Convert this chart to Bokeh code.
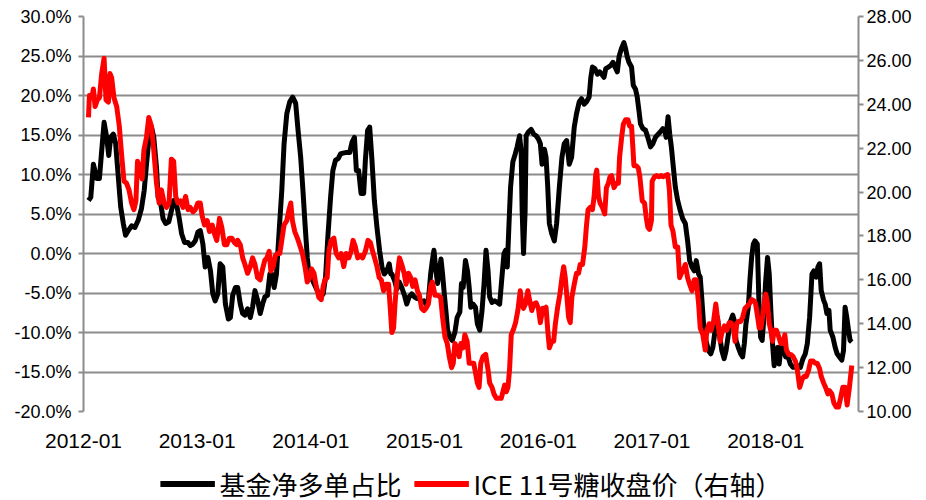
from bokeh.plotting import figure
from bokeh.layouts import column
from bokeh.models import (Range1d, LinearAxis, FixedTicker, PrintfTickFormatter,
                          Legend, LegendItem)
from bokeh.embed import file_html
from bokeh.resources import INLINE

# ---- data (x = fractional year) ----
black_t = [
    2012.044, 2012.064, 2012.087, 2012.117, 2012.140, 2012.160, 2012.181, 2012.204, 2012.222, 2012.239,
    2012.262, 2012.283, 2012.306, 2012.327, 2012.350, 2012.370, 2012.394, 2012.423, 2012.452, 2012.481,
    2012.510, 2012.534, 2012.554, 2012.574, 2012.598, 2012.618, 2012.642, 2012.656, 2012.677, 2012.700,
    2012.723, 2012.750, 2012.773, 2012.793, 2012.817, 2012.840, 2012.863, 2012.889, 2012.919, 2012.939,
    2012.962, 2012.983, 2013.006, 2013.027, 2013.050, 2013.070, 2013.094, 2013.117, 2013.137, 2013.158,
    2013.181, 2013.202, 2013.225, 2013.248, 2013.274, 2013.292, 2013.312, 2013.336,
    2013.356, 2013.379, 2013.400, 2013.420, 2013.443, 2013.467, 2013.487, 2013.508, 2013.531, 2013.554,
    2013.575, 2013.595, 2013.618, 2013.639, 2013.656, 2013.677, 2013.697, 2013.721, 2013.744, 2013.764,
    2013.788, 2013.814, 2013.840, 2013.866, 2013.887, 2013.910, 2013.930, 2013.948, 2013.968, 2013.983,
    2014.003, 2014.027, 2014.056, 2014.085, 2014.108, 2014.129, 2014.149, 2014.173, 2014.193, 2014.216,
    2014.240, 2014.260, 2014.283, 2014.313, 2014.342, 2014.362, 2014.383, 2014.400, 2014.420, 2014.441,
    2014.464, 2014.479, 2014.499, 2014.517, 2014.537, 2014.558, 2014.581, 2014.604, 2014.625, 2014.645,
    2014.668, 2014.689, 2014.703,
    2014.712, 2014.735, 2014.756, 2014.776, 2014.799, 2014.823, 2014.843, 2014.864, 2014.887, 2014.910,
    2014.931, 2014.951, 2014.974, 2014.995, 2015.012, 2015.033, 2015.053, 2015.068, 2015.082, 2015.100,
    2015.114, 2015.129, 2015.144, 2015.158, 2015.173, 2015.187, 2015.202, 2015.222, 2015.243, 2015.266,
    2015.286, 2015.310, 2015.324, 2015.339, 2015.359, 2015.377, 2015.392, 2015.406, 2015.426, 2015.447,
    2015.464, 2015.485, 2015.505, 2015.523, 2015.540, 2015.558, 2015.572, 2015.593, 2015.616, 2015.639,
    2015.660, 2015.680, 2015.698, 2015.712, 2015.727, 2015.741, 2015.756, 2015.776, 2015.797, 2015.814,
    2015.835, 2015.849, 2015.858, 2015.870, 2015.884, 2015.893, 2015.914, 2015.937, 2015.960, 2015.981,
    2016.001, 2016.018, 2016.033, 2016.054,
    2016.068, 2016.083, 2016.097, 2016.118, 2016.141, 2016.161, 2016.185, 2016.208, 2016.228, 2016.249,
    2016.272, 2016.293, 2016.316, 2016.336, 2016.360, 2016.380, 2016.403, 2016.424, 2016.447, 2016.462,
    2016.476, 2016.497, 2016.520, 2016.540, 2016.558, 2016.578, 2016.593, 2016.616, 2016.637, 2016.657,
    2016.675, 2016.695, 2016.710, 2016.730, 2016.753, 2016.768, 2016.782, 2016.797, 2016.820, 2016.835,
    2016.855, 2016.870, 2016.885, 2016.899, 2016.920, 2016.943, 2016.963, 2016.987, 2017.007, 2017.030,
    2017.054, 2017.074, 2017.095, 2017.112, 2017.124, 2017.141, 2017.156, 2017.170, 2017.185, 2017.205,
    2017.226, 2017.249, 2017.270, 2017.293, 2017.313, 2017.331, 2017.351, 2017.372, 2017.389, 2017.410,
    2017.424, 2017.439, 2017.453, 2017.474, 2017.497, 2017.517, 2017.535, 2017.555, 2017.576, 2017.593,
    2017.614, 2017.634, 2017.651, 2017.672, 2017.692, 2017.710, 2017.724, 2017.739, 2017.759, 2017.780,
    2017.797, 2017.812, 2017.826, 2017.847, 2017.861, 2017.876, 2017.891, 2017.905, 2017.926, 2017.940,
    2017.955, 2017.969, 2017.984, 2017.998, 2018.016, 2018.031, 2018.045, 2018.060, 2018.074, 2018.089,
    2018.104, 2018.118, 2018.138, 2018.159, 2018.176, 2018.197, 2018.217, 2018.241, 2018.261, 2018.284,
    2018.305, 2018.328, 2018.348, 2018.366, 2018.386, 2018.407, 2018.424, 2018.445, 2018.459, 2018.474,
    2018.488, 2018.509, 2018.523, 2018.538, 2018.556, 2018.567, 2018.591, 2018.611, 2018.628, 2018.649,
    2018.669, 2018.684, 2018.698, 2018.713, 2018.728, 2018.742, 2018.757,
]
black_pct = [
    6.7, 7.1, 11.3, 9.5, 9.5, 13.0, 16.6, 14.7, 12.4, 14.7,
    15.1, 13.9, 9.7, 5.9, 3.8, 2.3, 2.9, 3.5, 3.3, 4.2,
    5.7, 8.0, 11.3, 14.3, 16.0, 14.7, 10.9, 7.1, 6.5, 4.4,
    3.8, 4.0, 5.4, 6.7, 6.3, 4.6, 2.5, 1.4, 1.4, 1.0,
    1.2, 1.6, 2.7, 2.9, 1.2, -1.7, -0.5, -2.2, -5.1, -6.0,
    -5.1, -1.3, -1.7, -6.4, -8.3, -8.1, -5.3, -4.3,
    -4.3, -6.4, -7.6, -7.8, -7.0, -8.1, -6.8, -4.7, -5.9, -7.6,
    -6.4, -5.5, -5.3, -2.6, -2.6, -4.3, -2.6, 2.9, 8.0, 13.9,
    17.7, 19.2, 19.8, 19.0, 15.6, 12.2, 8.0, 3.8, -0.5, -2.6,
    -3.0, -3.8, -4.7, -5.5, -5.1, -3.0, 2.1, 7.1, 10.5, 11.8,
    12.0, 12.6, 12.7, 12.8, 12.8, 14.1, 14.7, 10.5, 10.5, 7.6,
    7.6, 11.8, 15.6, 16.0, 11.8, 6.7, 3.3, 0.4, -1.7, -2.6,
    -2.2, -1.3, -2.6,
    -2.6, -3.4, -4.5, -3.6, -4.3, -5.3, -6.4, -5.5, -5.1, -5.5,
    -5.7, -5.7, -6.2, -6.0, -6.4, -6.0, -2.6, -0.9, 0.4, -2.2,
    -3.8, -2.2, -0.7, -2.6, -5.1, -7.2, -9.7, -10.6, -11.0, -10.0,
    -8.1, -7.4, -3.8, -4.3, -0.9, -2.2, -4.3, -6.8, -6.4, -6.8,
    -8.9, -9.7, -7.2, -3.8, 0.4, -2.2, -5.5, -6.2, -6.0, -6.2,
    -6.4, -3.0, 0.0, 0.4, -1.7, 3.3, 8.4, 11.6, 12.6, 13.5,
    14.9, 13.0, 5.4, 0.0, 5.4, 14.9, 15.4, 15.7, 15.1, 14.9,
    14.5, 13.9, 11.3, 13.2,
    12.2, 8.4, 3.8, 2.5, 1.6, 3.8, 8.4, 12.2, 13.9, 14.3,
    11.3, 12.2, 16.0, 17.7, 19.2, 19.6, 18.9, 19.2, 19.8, 22.3,
    23.6, 23.4, 22.7, 23.0, 22.7, 22.3, 23.4, 23.6, 23.8, 24.2,
    23.6, 23.0, 24.9, 25.9, 26.7, 25.9, 24.9, 24.2, 23.6, 21.3,
    20.8, 19.8, 18.1, 16.4, 15.8, 15.6, 14.7, 13.5, 13.9, 14.7,
    15.1, 15.4, 15.8, 15.6, 14.7, 17.3, 15.1, 13.5, 11.3, 8.4,
    6.7, 5.4, 4.4, 3.8, 1.6, -0.9, -1.7, -2.2, -0.9, -2.6,
    -3.0, -5.9, -8.9, -11.0, -12.3, -12.7, -11.9, -9.7, -8.1, -10.2,
    -12.3, -13.3, -12.3, -10.2, -8.5, -7.8, -8.5, -11.0, -11.9, -12.7,
    -13.1, -11.4, -8.9, -6.8, -3.4, -0.5, 1.2, 1.6, 1.2, -5.9,
    -10.6, -11.0, -8.1, -3.8, -0.5, -2.6, -7.2, -11.4, -14.2, -13.1,
    -11.9, -14.0, -11.4, -12.3, -13.1, -13.1, -14.0, -14.4, -14.4, -14.2,
    -14.4, -13.3, -12.7, -11.4, -8.1, -2.6, -2.2, -3.0, -1.7, -1.3,
    -4.7, -5.9, -6.4, -7.6, -7.2, -9.7, -10.6, -11.9, -12.7, -13.1,
    -13.5, -12.3, -6.8, -8.1, -9.7, -11.0, -11.2,
]

red_t = [
    2012.044, 2012.052, 2012.073, 2012.087, 2012.102, 2012.122, 2012.140, 2012.160, 2012.181, 2012.198,
    2012.219, 2012.233, 2012.248, 2012.268, 2012.292, 2012.315, 2012.335, 2012.356, 2012.379, 2012.400,
    2012.423, 2012.443, 2012.461, 2012.475, 2012.496, 2012.516, 2012.531, 2012.554, 2012.574, 2012.598,
    2012.618, 2012.642, 2012.665, 2012.685, 2012.709, 2012.729, 2012.752, 2012.773, 2012.793, 2012.811,
    2012.831, 2012.854, 2012.875, 2012.898, 2012.919, 2012.939, 2012.962, 2012.983, 2013.006, 2013.027,
    2013.044, 2013.064, 2013.088, 2013.108, 2013.132, 2013.152, 2013.172, 2013.196, 2013.216, 2013.239,
    2013.260, 2013.283, 2013.304, 2013.327, 2013.350,
    2013.356, 2013.379, 2013.400, 2013.420, 2013.443, 2013.467, 2013.487, 2013.508, 2013.531, 2013.554,
    2013.575, 2013.595, 2013.613, 2013.633, 2013.648, 2013.668, 2013.686, 2013.706, 2013.726, 2013.744,
    2013.764, 2013.788, 2013.808, 2013.823, 2013.837, 2013.858, 2013.881, 2013.901, 2013.925, 2013.948,
    2013.968, 2013.989, 2014.006, 2014.027, 2014.047, 2014.070, 2014.091, 2014.108, 2014.123, 2014.143,
    2014.158, 2014.178, 2014.202, 2014.222, 2014.245, 2014.266, 2014.289, 2014.310, 2014.333, 2014.353,
    2014.371, 2014.391, 2014.412, 2014.435, 2014.455, 2014.479, 2014.502, 2014.523, 2014.543, 2014.560,
    2014.581, 2014.601, 2014.619, 2014.639, 2014.660, 2014.683, 2014.698,
    2014.712, 2014.727, 2014.741, 2014.762, 2014.779, 2014.799, 2014.820, 2014.837, 2014.858, 2014.878,
    2014.896, 2014.916, 2014.937, 2014.954, 2014.974, 2014.995, 2015.012, 2015.033, 2015.053, 2015.068,
    2015.091, 2015.114, 2015.141, 2015.158, 2015.179, 2015.199, 2015.217, 2015.237, 2015.252, 2015.266,
    2015.286, 2015.304, 2015.319, 2015.339, 2015.354, 2015.374, 2015.392, 2015.412, 2015.432, 2015.450,
    2015.464, 2015.479, 2015.494, 2015.514, 2015.537, 2015.558, 2015.572, 2015.593, 2015.610, 2015.631,
    2015.654, 2015.674, 2015.689, 2015.704, 2015.718, 2015.733, 2015.747, 2015.762, 2015.782, 2015.800,
    2015.820, 2015.841, 2015.855, 2015.870, 2015.887, 2015.908, 2015.922, 2015.943, 2015.960, 2015.981,
    2016.001, 2016.018, 2016.039, 2016.059,
    2016.068, 2016.083, 2016.097, 2016.118, 2016.135, 2016.150, 2016.170, 2016.190, 2016.208, 2016.223,
    2016.237, 2016.252, 2016.266, 2016.281, 2016.295, 2016.316, 2016.336, 2016.354, 2016.368, 2016.389,
    2016.409, 2016.424, 2016.438, 2016.456, 2016.476, 2016.491, 2016.505, 2016.514, 2016.529, 2016.543,
    2016.564, 2016.584, 2016.599, 2016.616, 2016.631, 2016.645, 2016.666, 2016.686, 2016.704, 2016.715,
    2016.733, 2016.748, 2016.768, 2016.788, 2016.803, 2016.820, 2016.832, 2016.841, 2016.861, 2016.879,
    2016.893, 2016.914, 2016.934, 2016.949, 2016.963, 2016.978, 2016.995, 2017.001, 2017.022, 2017.039,
    2017.060, 2017.080, 2017.097, 2017.118, 2017.138, 2017.153, 2017.167, 2017.185, 2017.205, 2017.226,
    2017.243, 2017.258, 2017.272, 2017.293, 2017.313, 2017.331, 2017.351, 2017.372, 2017.389, 2017.410,
    2017.424, 2017.447, 2017.468, 2017.482, 2017.503, 2017.520, 2017.541, 2017.561, 2017.579, 2017.599,
    2017.619, 2017.637, 2017.657, 2017.678, 2017.695, 2017.716, 2017.730, 2017.745, 2017.759, 2017.780,
    2017.797, 2017.818, 2017.838, 2017.856, 2017.876, 2017.896, 2017.911, 2017.929, 2017.943, 2017.958,
    2017.972, 2017.987, 2018.001, 2018.016, 2018.031, 2018.045, 2018.060, 2018.074, 2018.095, 2018.115,
    2018.133, 2018.153, 2018.168, 2018.182, 2018.203, 2018.220, 2018.241, 2018.261, 2018.278, 2018.299,
    2018.319, 2018.337, 2018.357, 2018.378, 2018.395, 2018.416, 2018.436, 2018.453, 2018.474, 2018.488,
    2018.509, 2018.526, 2018.547, 2018.561, 2018.582, 2018.599, 2018.620, 2018.640, 2018.658, 2018.678,
    2018.698, 2018.716, 2018.736, 2018.757,
]
red_price = [
    23.4, 24.4, 24.3, 24.7, 23.9, 24.2, 24.3, 25.4, 26.1, 24.2,
    24.1, 25.4, 25.2, 24.3, 23.9, 23.0, 21.7, 20.5, 20.4, 20.1,
    19.5, 19.2, 19.6, 21.4, 21.1, 20.6, 21.9, 22.5, 23.4, 23.0,
    21.9, 20.4, 19.5, 20.1, 19.5, 19.3, 19.5, 21.5, 21.4, 19.8,
    19.5, 19.6, 19.3, 19.8, 19.2, 19.3, 19.1, 19.2, 19.5, 19.5,
    18.9, 18.5, 18.7, 18.2, 18.5, 18.1, 17.8, 18.8, 18.4, 17.6,
    17.6, 17.9, 17.9, 17.7, 17.6,
    17.8, 17.6, 17.0, 16.7, 16.3, 16.6, 17.0, 16.7, 16.1, 16.0,
    16.5, 16.9, 17.0, 17.3, 16.4, 16.6, 17.1, 17.2, 17.2, 17.8,
    18.5, 18.7, 19.2, 19.5, 18.7, 18.2, 17.9, 17.6, 17.2, 16.6,
    15.9, 16.1, 16.5, 16.3, 15.7, 15.2, 15.1, 15.7, 16.0, 16.1,
    17.3, 17.8, 17.9, 17.2, 17.0, 17.2, 16.6, 17.2, 17.0, 17.3,
    17.8, 17.5, 17.0, 17.1, 17.0, 17.3, 17.8, 17.7, 17.3, 17.0,
    16.6, 16.1, 16.0, 15.5, 15.8, 15.8, 14.7,
    13.6, 13.8, 15.0, 16.3, 17.0, 16.7, 16.3, 15.8, 16.3, 16.1,
    15.7, 16.0, 15.5, 15.3, 14.7, 14.6, 14.7, 14.9, 15.7, 15.9,
    15.3, 15.3, 15.2, 14.3, 13.4, 13.1, 12.5, 12.0, 12.2, 13.1,
    12.9, 12.5, 13.1, 12.9, 13.5, 13.2, 12.2, 12.2, 12.2, 11.7,
    11.3, 11.1, 12.2, 12.5, 12.6, 11.9, 11.3, 11.1, 10.8, 10.6,
    10.6, 10.6, 10.9, 11.2, 10.9, 11.1, 11.9, 13.5, 13.75, 14.05,
    14.6, 15.5, 14.9, 14.7, 14.9, 15.5, 15.1, 14.6, 14.9, 14.95,
    14.7, 14.05, 14.7, 14.7,
    14.75, 13.7, 12.9, 13.2, 13.2, 14.0, 14.75, 15.35, 16.1, 16.6,
    16.1, 15.2, 14.3, 14.05, 15.2, 15.8, 16.3, 16.3, 16.7, 16.7,
    17.5, 18.5, 19.2, 19.3, 19.2, 19.8, 20.8, 21.0, 19.8, 19.5,
    19.3, 19.0, 20.2, 20.4, 20.7, 20.75, 20.2, 20.4, 20.4, 21.6,
    22.5, 23.1, 23.3, 23.3, 23.0, 23.0, 22.0, 21.2, 21.2, 21.1,
    20.7, 19.6, 19.5, 18.85, 18.4, 18.3, 18.7, 20.5, 20.7, 20.75,
    20.7, 20.75, 20.7, 20.75, 20.8, 20.1, 18.5, 18.2, 17.5, 17.5,
    16.1, 16.3, 16.4, 16.7, 16.1, 15.8, 15.5, 16.0, 16.0, 14.9,
    13.8, 13.5, 12.8, 13.7, 14.0, 13.7, 14.1, 14.9, 14.1, 13.2,
    13.7, 13.9, 13.7, 14.05, 14.05, 13.8, 13.2, 14.0, 14.1, 14.1,
    14.3, 14.7, 14.8, 14.9, 15.1, 15.05, 14.9, 14.3, 13.8, 13.8,
    14.3, 14.9, 15.35, 14.9, 14.0, 13.7, 13.2, 13.7, 13.7, 13.4,
    13.1, 13.1, 13.5, 12.8, 12.6, 12.6, 12.5, 12.3, 11.9, 11.1,
    11.45, 11.6, 11.6, 11.9, 12.3, 12.3, 12.2, 12.2, 11.95, 11.6,
    11.3, 11.1, 10.8, 10.95, 10.8, 10.4, 10.2, 10.2, 10.6, 11.1,
    11.1, 10.3, 11.1, 12.1,
]

year_ticks = [2012, 2013, 2014, 2015, 2016, 2017, 2018]
year_labels = ["2012-01", "2013-01", "2014-01", "2015-01", "2016-01", "2017-01", "2018-01"]
left_ticks = [-20, -15, -10, -5, 0, 5, 10, 15, 20, 25, 30]
right_ticks = [10, 12, 14, 16, 18, 20, 22, 24, 26, 28]
series_names = ["基金净多单占比", "ICE 11号糖收盘价（右轴）"]

GRID = "#8c8c8c"
LATIN = "Liberation Sans"
LEG_H = 34

p = figure(width=926, height=500 - LEG_H, output_backend="svg", toolbar_location=None,
           x_range=Range1d(2012.0, 2018.816), y_range=Range1d(-20, 30),
           min_border_left=83, min_border_right=68, min_border_top=16,
           min_border_bottom=500 - LEG_H - 411, background_fill_color="white",
           border_fill_color="white")
p.outline_line_color = None
p.xgrid.visible = False

lt = FixedTicker(ticks=left_ticks)
p.yaxis.ticker = lt
p.ygrid.ticker = lt
p.ygrid.grid_line_color = GRID
p.ygrid.grid_line_width = 2
p.yaxis.formatter = PrintfTickFormatter(format="%.1f%%")
p.yaxis.axis_line_color = GRID
p.yaxis.axis_line_width = 2
p.yaxis.major_tick_line_color = GRID
p.yaxis.major_tick_line_width = 2
p.yaxis.major_tick_out = 5
p.yaxis.major_tick_in = 0
p.yaxis.minor_tick_line_color = None
p.yaxis.major_label_standoff = 7
p.yaxis.major_label_text_font = LATIN
p.yaxis.major_label_text_font_size = "18px"
p.yaxis.major_label_text_color = "black"

p.xaxis.ticker = FixedTicker(ticks=year_ticks)
p.xaxis.major_label_overrides = {t: l for t, l in zip(year_ticks, year_labels)}
p.xaxis.axis_line_color = None
p.xaxis.major_tick_line_color = None
p.xaxis.minor_tick_line_color = None
p.xaxis.major_tick_out = 0
p.xaxis.major_label_standoff = 22
p.xaxis.major_label_text_font = LATIN
p.xaxis.major_label_text_font_size = "21px"
p.xaxis.major_label_text_color = "black"

p.extra_y_ranges = {"right": Range1d(10, 28)}
ra = LinearAxis(y_range_name="right", ticker=FixedTicker(ticks=right_ticks),
                formatter=PrintfTickFormatter(format="%.2f"))
ra.axis_line_color = GRID
ra.axis_line_width = 2
ra.major_tick_line_color = GRID
ra.major_tick_line_width = 2
ra.major_tick_out = 5
ra.major_tick_in = 0
ra.minor_tick_line_color = None
ra.major_label_standoff = 3
ra.major_label_text_font = LATIN
ra.major_label_text_font_size = "18px"
ra.major_label_text_color = "black"
p.add_layout(ra, "right")

p.line(black_t, black_pct, line_color="black", line_width=5, line_join="round")
p.line(red_t, red_price, line_color="#ff0000", line_width=5, line_join="round",
       y_range_name="right")

# legend strip under the chart: its key renderers carry the same series but lie
# outside this strip's ranges, so only their legend swatches are drawn
leg = figure(width=926, height=LEG_H, output_backend="svg", toolbar_location=None,
             x_range=Range1d(0, 1), y_range=Range1d(0, 1),
             x_axis_type=None, y_axis_type=None, min_border=0,
             background_fill_color="white", border_fill_color="white")
leg.outline_line_color = None
leg.grid.visible = False
k_black = leg.line(black_t, black_pct, line_color="black", line_width=6)
k_red = leg.line(red_t, red_price, line_color="#ff0000", line_width=6)

legend = Legend(items=[LegendItem(label=series_names[0], renderers=[k_black]),
                       LegendItem(label=series_names[1], renderers=[k_red])],
                orientation="horizontal", location="center")
legend.label_text_font = "Noto Sans CJK SC"
legend.label_text_font_size = "26px"
legend.label_text_color = "black"
legend.glyph_width = 55
legend.glyph_height = 24
legend.label_height = 24
legend.label_standoff = 5
legend.spacing = 12
legend.padding = 0
legend.margin = 0
legend.border_line_color = None
legend.background_fill_alpha = 0
leg.add_layout(legend, "center")

page = column(p, leg, spacing=0)
open("out.html", "w").write(file_html(page, INLINE))
